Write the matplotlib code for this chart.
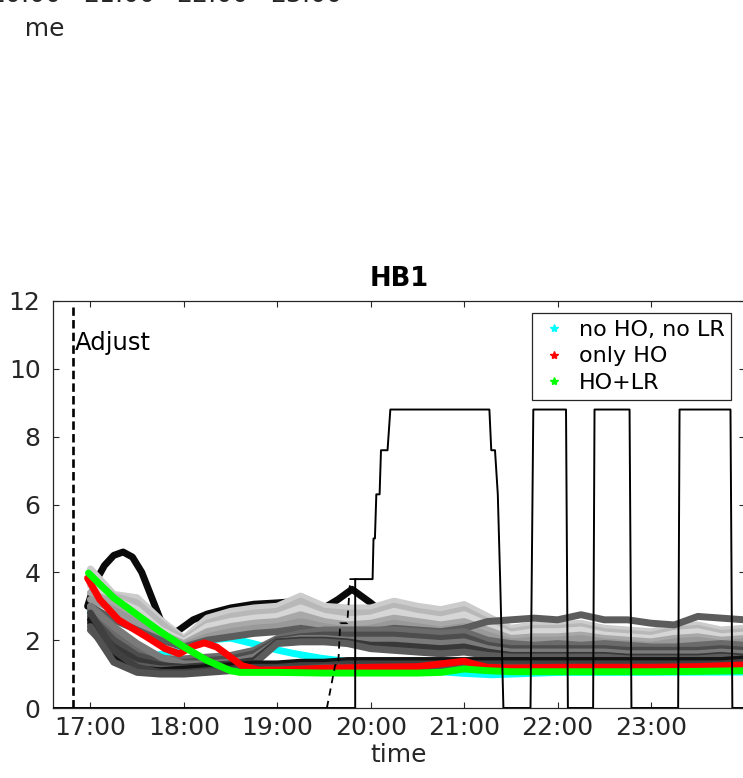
import matplotlib
matplotlib.use("Agg")
import matplotlib.pyplot as plt
from matplotlib.lines import Line2D
from matplotlib.transforms import Bbox

# ---------------- data ----------------
T = [17.00, 17.25, 17.50, 17.75, 18.00, 18.25, 18.50, 18.75, 19.00, 19.25,
     19.50, 19.75, 20.00, 20.25, 20.50, 20.75, 21.00, 21.25, 21.50, 21.75,
     22.00, 22.25, 22.50, 22.75, 23.00, 23.25, 23.50, 23.75, 24.00]

# light gray ensemble members
light_LA = [4.1, 3.35, 3.25, 2.6, 2.05, 2.65, 2.85, 2.95, 3.0, 3.3, 3.0, 2.95, 2.95, 3.15, 3.0, 2.9, 3.05, 2.7, 2.35, 2.45, 2.45, 2.5, 2.35, 2.3, 2.25, 2.4, 2.45, 2.3, 2.35]
light_LB = [3.8, 3.3, 3.1, 2.5, 2.0, 2.5, 2.7, 2.8, 2.85, 3.15, 2.85, 2.8, 2.8, 3.0, 2.85, 2.75, 2.9, 2.55, 2.25, 2.35, 2.35, 2.4, 2.25, 2.2, 2.15, 2.3, 2.35, 2.2, 2.25]
light_LC = [3.6, 3.2, 2.9, 2.3, 1.95, 2.4, 2.55, 2.65, 2.7, 2.95, 2.7, 2.6, 2.65, 2.85, 2.7, 2.6, 2.75, 2.45, 2.15, 2.25, 2.25, 2.3, 2.15, 2.1, 2.05, 2.2, 2.25, 2.1, 2.15]
light_LD = [3.4, 3.1, 2.7, 2.2, 1.9, 2.25, 2.4, 2.5, 2.55, 2.75, 2.55, 2.45, 2.5, 2.65, 2.55, 2.45, 2.55, 2.3, 2.05, 2.1, 2.1, 2.15, 2.05, 2.0, 1.95, 2.05, 2.1, 2.0, 2.05]
light_LE = [3.2, 2.9, 2.5, 2.1, 1.85, 2.1, 2.25, 2.35, 2.4, 2.55, 2.4, 2.3, 2.35, 2.5, 2.4, 2.3, 2.4, 2.15, 1.95, 2.0, 2.0, 2.05, 1.95, 1.9, 1.85, 1.95, 2.0, 1.9, 1.95]
dark_top = [3.0, 2.6, 2.3, 2.0, 1.8, 2.0, 2.1, 2.2, 2.25, 2.35, 2.25, 2.2, 2.25, 2.35, 2.3, 2.25, 2.35, 2.55, 2.6, 2.65, 2.6, 2.75, 2.6, 2.6, 2.5, 2.45, 2.7, 2.65, 2.6]
# darker gray ensemble members
dark_DA = [2.9, 2.2, 1.7, 1.45, 1.45, 1.5, 1.55, 1.7, 2.05, 2.2, 2.3, 2.3, 2.3, 2.3, 2.25, 2.2, 2.25, 2.0, 1.9, 1.85, 1.9, 1.85, 1.9, 1.85, 1.8, 1.8, 1.85, 1.9, 1.85]
dark_DB = [2.7, 2.0, 1.55, 1.35, 1.35, 1.4, 1.45, 1.6, 2.0, 2.1, 2.15, 2.15, 2.15, 2.15, 2.1, 2.05, 2.1, 1.85, 1.75, 1.75, 1.75, 1.75, 1.75, 1.7, 1.7, 1.7, 1.7, 1.75, 1.7]
dark_DC = [3.0, 2.4, 1.9, 1.5, 1.3, 1.3, 1.35, 1.5, 1.95, 2.05, 2.05, 2.0, 2.0, 2.0, 1.95, 1.9, 1.95, 1.75, 1.65, 1.65, 1.65, 1.65, 1.65, 1.6, 1.6, 1.6, 1.6, 1.65, 1.6]
dark_DD = [2.5, 1.8, 1.4, 1.25, 1.2, 1.25, 1.3, 1.4, 1.95, 2.0, 2.0, 1.95, 1.85, 1.85, 1.8, 1.75, 1.8, 1.65, 1.55, 1.55, 1.55, 1.55, 1.55, 1.5, 1.5, 1.5, 1.5, 1.55, 1.5]
dark_DE = [2.3, 1.6, 1.25, 1.15, 1.15, 1.2, 1.25, 1.3, 1.9, 1.95, 1.95, 1.9, 1.75, 1.7, 1.65, 1.6, 1.65, 1.55, 1.5, 1.5, 1.5, 1.5, 1.5, 1.45, 1.45, 1.45, 1.45, 1.5, 1.45]
dark_DF = [2.6, 1.5, 1.15, 1.1, 1.15, 1.2, 1.25, 1.3, 1.3, 1.35, 1.35, 1.4, 1.4, 1.4, 1.4, 1.4, 1.4, 1.4, 1.4, 1.4, 1.4, 1.4, 1.4, 1.4, 1.4, 1.4, 1.4, 1.4, 1.45]
dark_DG = [2.8, 1.7, 1.2, 1.05, 1.05, 1.1, 1.15, 1.2, 1.2, 1.25, 1.25, 1.3, 1.3, 1.3, 1.3, 1.3, 1.3, 1.3, 1.3, 1.3, 1.3, 1.3, 1.3, 1.3, 1.3, 1.3, 1.3, 1.3, 1.35]
dark_DH = [2.4, 1.35, 1.05, 1.0, 1.0, 1.05, 1.1, 1.1, 1.15, 1.15, 1.2, 1.2, 1.2, 1.2, 1.2, 1.2, 1.2, 1.2, 1.2, 1.2, 1.2, 1.2, 1.2, 1.2, 1.2, 1.2, 1.2, 1.2, 1.2]

light_members = [light_LA, light_LB, light_LC, light_LD, light_LE]
light_shades = ["0.80", "0.72", "0.84", "0.66", "0.60"]
dark_members = [dark_DA, dark_DB, dark_DC, dark_DD, dark_DE, dark_DF, dark_DG, dark_DH]
dark_shades = ["0.42", "0.30", "0.48", "0.22", "0.36", "0.08", "0.25", "0.32"]

# black member with early peak
peak_t = [16.97, 17.05, 17.15, 17.25, 17.35, 17.45, 17.55, 17.65, 17.75, 17.85, 17.95, 18.1, 18.25, 18.5, 18.75, 19.0, 19.25, 19.5, 19.65, 19.8, 20.0, 20.25, 20.5, 21.0, 21.5, 22.0, 23.0, 24.0]
peak_v = [3.0, 3.7, 4.2, 4.5, 4.6, 4.45, 4.0, 3.3, 2.6, 2.15, 2.3, 2.6, 2.77, 2.95, 3.06, 3.1, 3.15, 2.95, 3.2, 3.5, 3.1, 2.5, 2.3, 2.2, 1.7, 1.6, 1.5, 1.5]

# scenarios
cyan_t = [17.0, 17.1, 17.29, 17.4, 17.55, 17.72, 18.04, 18.25, 18.5, 18.74, 19.0, 19.17, 19.46, 19.75, 20.07, 20.5, 21.0, 21.3, 21.5, 22.0, 24.0]
cyan_v = [2.83, 2.3, 1.71, 1.56, 1.5, 1.56, 1.77, 2.0, 2.06, 1.9, 1.71, 1.61, 1.47, 1.37, 1.27, 1.12, 1.02, 0.98, 1.0, 1.05, 1.06]
red_t = [16.97, 17.1, 17.3, 17.45, 17.6, 17.8, 17.95, 18.1, 18.22, 18.35, 18.5, 18.62, 18.8, 19.0, 19.5, 20.0, 20.5, 20.75, 21.0, 21.1, 21.25, 21.5, 22.0, 22.5, 23.0, 23.5, 24.0]
red_v = [3.83, 3.2, 2.6, 2.35, 2.1, 1.75, 1.6, 1.82, 1.92, 1.8, 1.5, 1.25, 1.12, 1.12, 1.17, 1.2, 1.22, 1.3, 1.38, 1.3, 1.2, 1.18, 1.2, 1.2, 1.2, 1.22, 1.27]
green_t = [16.98, 17.1, 17.25, 17.5, 17.75, 18.0, 18.25, 18.5, 18.6, 19.0, 19.5, 20.0, 20.5, 20.75, 21.0, 21.25, 21.5, 22.0, 22.5, 23.0, 23.5, 24.0]
green_v = [3.98, 3.65, 3.25, 2.75, 2.25, 1.8, 1.4, 1.1, 1.05, 1.05, 1.03, 1.03, 1.03, 1.05, 1.15, 1.1, 1.07, 1.07, 1.07, 1.07, 1.08, 1.1]

# control signal (solid) and its forecast (dashed)
step_t = [16.6, 19.834, 19.834, 20.02, 20.03, 20.045, 20.06, 20.095, 20.11, 20.18, 20.21, 21.27, 21.29, 21.33, 21.36, 21.385, 21.42, 21.71, 21.74, 22.09, 22.11, 22.38, 22.395, 22.77, 22.79, 23.29, 23.305, 23.85, 23.87, 24.0]
step_v = [0, 0, 3.8, 3.8, 5.0, 5.0, 6.3, 6.3, 7.6, 7.6, 8.8, 8.8, 7.6, 7.6, 6.3, 3.8, 0, 0, 8.8, 8.8, 0, 0, 8.8, 8.8, 0, 0, 8.8, 8.8, 0, 0]
fc_t = [19.531, 19.62, 19.652, 19.674, 19.749, 19.781, 19.845]
fc_v = [0, 1.27, 1.27, 2.5, 2.5, 3.8, 3.8]

adjust_time = 16.81
xtick_vals = [17, 18, 19, 20, 21, 22, 23]
xtick_labels = ["17:00", "18:00", "19:00", "20:00", "21:00", "22:00", "23:00"]
ytick_vals = [0, 2, 4, 6, 8, 10, 12]
legend_labels = ["no HO, no LR", "only HO", "HO+LR"]
legend_colors = ["#00ffff", "#ff0000", "#00ff00"]
upper_tick_labels = ["20:00", "21:00", "22:00", "23:00"]

# ---------------- figure ----------------
W, H = 743, 778
fig = plt.figure(figsize=(W / 100, H / 100), dpi=100)
ax_l, ax_r, ax_t, ax_b = 53, 744.5, 301, 708
ax = fig.add_axes([ax_l / W, 1 - ax_b / H, (ax_r - ax_l) / W, (ax_b - ax_t) / H])

txt = "#262626"
LW = 5.0

ax.plot(cyan_t, cyan_v, color=legend_colors[0], lw=LW, solid_capstyle="round", zorder=2)
ax.plot(peak_t, peak_v, color="0.04", lw=LW, solid_capstyle="round", zorder=3)
for vals, c in zip(light_members, light_shades):
    ax.plot(T, vals, color=c, lw=LW, solid_capstyle="round", zorder=4)
ax.plot(T, dark_top, color="0.36", lw=LW, solid_capstyle="round", zorder=4)
for vals, c in zip(dark_members, dark_shades):
    ax.plot(T, vals, color=c, lw=LW, solid_capstyle="round", zorder=5)
ax.plot(red_t, red_v, color=legend_colors[1], lw=LW, solid_capstyle="round", zorder=6)
ax.plot(green_t, green_v, color=legend_colors[2], lw=LW, solid_capstyle="round", zorder=7)

ax.plot(step_t, step_v, color="black", lw=1.4, zorder=8)
ax.plot(fc_t, fc_v, color="black", lw=1.3, ls=(0, (4, 3)), zorder=8)

ax.axvline(adjust_time, ymin=0, ymax=0.985, color="black", lw=1.9, ls=(0, (3.2, 1.6)), zorder=9)
ax.text(adjust_time + 0.02, 10.56, "Adjust", fontsize=17.5, color="black", va="baseline", ha="left")

ax.set_xlim(16.6, 24.0)
ax.set_ylim(0, 12)
ax.set_xticks(xtick_vals)
ax.set_xticklabels(xtick_labels)
ax.set_yticks(ytick_vals)
ax.tick_params(direction="in", length=4, width=0.8, colors=txt, labelsize=18,
               top=True, right=True, pad=6)
ax.tick_params(axis="y", pad=9)
for s in ax.spines.values():
    s.set_color(txt)
    s.set_linewidth(0.9)
ax.set_xlabel("time", fontsize=18, color=txt, labelpad=2)
ax.set_title("HB1", fontsize=18.5, fontweight="bold", color="black", pad=11)

handles = [Line2D([], [], ls="none", marker="*", markersize=6, color=c) for c in legend_colors]
leg = ax.legend(handles, legend_labels, loc="upper right",
                bbox_to_anchor=(731 / W, 1 - 313 / H), bbox_transform=fig.transFigure,
                fontsize=16, frameon=True, fancybox=False, framealpha=1,
                edgecolor=txt, borderpad=0.3, labelspacing=0.3,
                handlelength=1.4, handletextpad=0.4, borderaxespad=0)
leg.get_frame().set_linewidth(0.9)

# parts of the neighbouring panel above (cropped by the figure edge)
for i, lab in enumerate(upper_tick_labels):
    cx = 306 - (len(upper_tick_labels) - 1 - i) * 93.5
    fig.text(cx / W, 1 - 1.5 / H, lab, fontsize=18, color=txt, ha="center", va="baseline")
clip = Bbox.from_extents(23, 0, W, H)
t_time = fig.text(65 / W, 1 - 36 / H, "time", fontsize=18, color=txt, ha="right", va="baseline")
t_time.set_clip_box(clip)
t_time.set_clip_on(True)
fig.text(3 / W, 1 - 470 / H, "Outflow rate", fontsize=18, color="#cccccc",
         rotation=90, ha="right", va="center")

fig.savefig("out.png", dpi=100)
